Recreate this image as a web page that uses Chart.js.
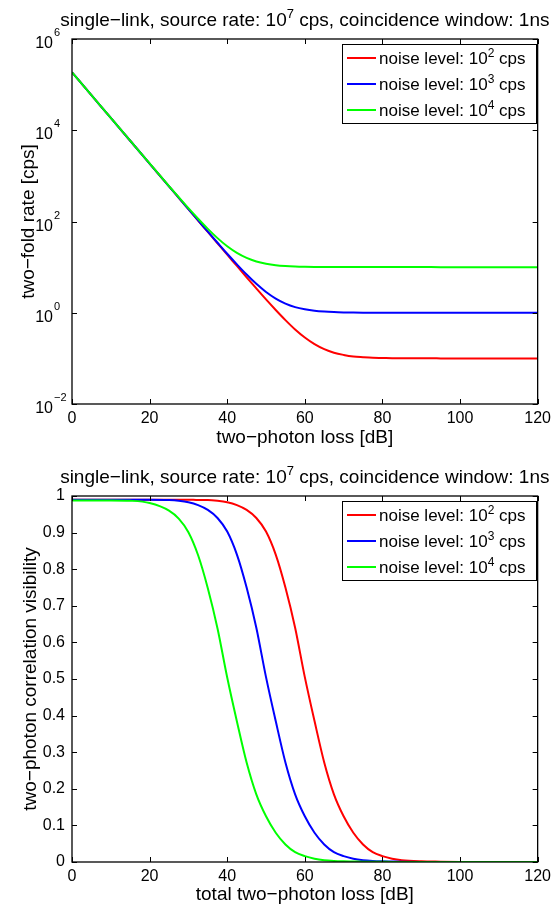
<!DOCTYPE html>
<html><head><meta charset="utf-8">
<script src="https://cdn.jsdelivr.net/npm/chart.js@4.4.1/dist/chart.umd.min.js"></script>
<style>
html,body{margin:0;padding:0;background:#fff;overflow:hidden;}
#wrap{position:relative;width:556px;height:907px;}
.box{position:absolute;left:0;width:556px;}
</style></head><body>
<div id="wrap">
<div class="box" style="top:0;height:453px"><canvas id="c1"></canvas></div>
<div class="box" style="top:453px;height:454px"><canvas id="c2"></canvas></div>
</div>
<script>
// ---- data ----
const lossDb = [0,5,10,15,20,25,27.5,30,32.5,35,37.5,40,42.5,45,47.5,50,52.5,55,57.5,60,62.5,65,67.5,70,72.5,75,77.5,80,82.5,85,90,95,100,105,110,115,120];
const noiseExponents = [2,3,4];
const rateNoise1e2 = [186000,58900,18600,5890,1860,589,331,186,105,59,33.2,18.7,10.6,5.99,3.41,1.96,1.15,0.69,0.43,0.286,0.205,0.159,0.133,0.119,0.110,0.106,0.103,0.102,0.101,0.1006,0.1002,0.1,0.1,0.1,0.1,0.1,0.1];
const rateNoise1e3 = [186000,58900,18600,5890,1860,590,332,187,106,60,34.2,19.6,11.5,6.89,4.31,2.86,2.05,1.59,1.33,1.19,1.105,1.059,1.033,1.019,1.011,1.006,1.003,1.002,1.001,1.0006,1.0002,1,1,1,1,1,1];
const rateNoise1e4 = [186000,58900,18600,5900,1870,599,341,196,115,69,43.2,28.6,20.5,15.9,13.3,11.9,11.05,10.59,10.33,10.19,10.11,10.06,10.03,10.02,10.01,10.006,10.003,10.002,10.001,10.0006,10.0002,10,10,10,10,10,10];
const visNoise1e2 = [0.990,0.990,0.990,0.990,0.990,0.990,0.990,0.990,0.989,0.989,0.987,0.983,0.975,0.962,0.940,0.903,0.840,0.750,0.640,0.505,0.385,0.272,0.185,0.125,0.080,0.048,0.027,0.016,0.009,0.005,0.002,0.001,0.0003,0,0,0,0];
const visNoise1e3 = [0.990,0.990,0.990,0.990,0.990,0.989,0.987,0.983,0.975,0.962,0.940,0.903,0.840,0.750,0.640,0.505,0.385,0.272,0.185,0.125,0.080,0.048,0.027,0.016,0.009,0.005,0.003,0.002,0.0015,0.001,0.0003,0.0001,0,0,0,0,0];
const visNoise1e4 = [0.988,0.988,0.988,0.987,0.981,0.960,0.938,0.901,0.838,0.748,0.638,0.504,0.384,0.272,0.185,0.125,0.080,0.048,0.027,0.016,0.009,0.005,0.003,0.002,0.0015,0.001,0.0007,0.0005,0.0003,0.0002,0,0,0,0,0,0,0];
const xTicks = [0,20,40,60,80,100,120];
const rateTicks = [1e-2,1e0,1e2,1e4,1e6];
const visTicks = [0,0.1,0.2,0.3,0.4,0.5,0.6,0.7,0.8,0.9,1];

// ---- drawing ----
const FONT = '"Liberation Sans", Arial, Helvetica, sans-serif';
Chart.defaults.font.family = FONT;
Chart.defaults.color = '#000';

function richText(ctx, parts, x, y, align, size, supSize, supRise) {
  let w = 0;
  const widths = parts.map(p => { ctx.font = (p[1] ? supSize : size) + 'px ' + FONT; const m = ctx.measureText(p[0]).width; w += m; return m; });
  let cx = align === 'center' ? x - w / 2 : align === 'right' ? x - w : x;
  ctx.textAlign = 'left'; ctx.textBaseline = 'alphabetic';
  parts.forEach((p, i) => { ctx.font = (p[1] ? supSize : size) + 'px ' + FONT; ctx.fillText(p[0], cx, p[1] ? y - supRise : y); cx += widths[i]; });
}

const matlabPlugin = {
  id: 'matlab',
  afterDraw(chart, args, o) {
    const ctx = chart.ctx, a = chart.chartArea, xs = chart.scales.x, ys = chart.scales.y;
    ctx.save();
    ctx.fillStyle = '#000'; ctx.strokeStyle = '#000';
    // ticks (inward, all four sides)
    ctx.lineWidth = 1;
    const tl = 5;
    ctx.beginPath();
    xs.ticks.forEach(t => { const p = Math.round(xs.getPixelForValue(t.value)) + 0.5; ctx.moveTo(p, a.bottom); ctx.lineTo(p, a.bottom - tl); ctx.moveTo(p, a.top); ctx.lineTo(p, a.top + tl); });
    ys.ticks.forEach(t => { const p = Math.round(ys.getPixelForValue(t.value)) + 0.5; ctx.moveTo(a.left, p); ctx.lineTo(a.left + tl, p); ctx.moveTo(a.right, p); ctx.lineTo(a.right - tl, p); });
    ctx.stroke();
    // box
    ctx.lineWidth = 1.3;
    ctx.strokeRect(a.left, a.top, a.right - a.left, a.bottom - a.top);
    // log tick labels
    if (o.logLabels) {
      ys.ticks.forEach(t => {
        const p = ys.getPixelForValue(t.value);
        const e = Math.round(Math.log10(t.value));
        ctx.font = '16px ' + FONT; ctx.textAlign = 'right'; ctx.textBaseline = 'alphabetic';
        ctx.fillText('10', a.left - 19, p + 9);
        ctx.font = '11px ' + FONT; ctx.textAlign = 'left';
        ctx.fillText(e < 0 ? '\u2212' + (-e) : String(e), a.left - 18, p - 3);
      });
    }
    // title
    richText(ctx, o.title, (a.left + a.right) / 2, a.top - 13, 'center', 19, 13, 8);
    // legend
    const L = o.legend;
    ctx.fillStyle = '#fff';
    ctx.fillRect(L.x, L.y, L.w, L.h);
    ctx.lineWidth = 1; ctx.strokeStyle = '#000';
    ctx.strokeRect(L.x + 0.5, L.y + 0.5, L.w, L.h);
    chart.data.datasets.forEach((ds, i) => {
      const cy = L.y + L.first + i * L.step;
      ctx.strokeStyle = ds.borderColor; ctx.lineWidth = 2;
      ctx.beginPath(); ctx.moveTo(L.x + 5, cy); ctx.lineTo(L.x + 34, cy); ctx.stroke();
      ctx.fillStyle = '#000';
      richText(ctx, [['noise level: 10', false], [String(ds.noiseExp), true], [' cps', false]], L.x + 37, cy + 6, 'left', 17, 12, 7);
    });
    ctx.restore();
  }
};

const titleParts = [['single\u2212link, source rate: 10', false], ['7', true], [' cps, coincidence window: 1ns', false]];
const colors = ['#ff0000', '#0000ff', '#00ff00'];

function makeDatasets(series) {
  return series.map((s, i) => ({
    label: 'noise level: 10^' + noiseExponents[i] + ' cps',
    noiseExp: noiseExponents[i],
    data: lossDb.map((x, j) => ({ x: x, y: s[j] })),
    borderColor: colors[i], backgroundColor: colors[i],
    borderWidth: 2, pointRadius: 0, fill: false,
    cubicInterpolationMode: 'monotone',
    order: 3 - i
  }));
}

function xScale(titleText, padBottom, height) {
  return {
    type: 'linear', min: 0, max: 120,
    afterBuildTicks(s) { s.ticks = xTicks.map(v => ({ value: v })); },
    ticks: { font: { size: 16 }, color: '#000', padding: 5, maxRotation: 0, autoSkip: false },
    grid: { display: false, drawTicks: false }, border: { display: false },
    title: { display: true, text: titleText, font: { size: 19 }, color: '#000', padding: { top: 0, bottom: padBottom } },
    afterFit(s) { s.height = height; }
  };
}

new Chart(document.getElementById('c1'), {
  type: 'line',
  data: { datasets: makeDatasets([rateNoise1e2, rateNoise1e3, rateNoise1e4]) },
  options: {
    responsive: true, maintainAspectRatio: false, animation: false,
    layout: { padding: { top: 39, right: 15, left: 0, bottom: 0 } },
    plugins: {
      legend: { display: false }, tooltip: { enabled: false },
      matlab: { logLabels: true, title: titleParts, legend: { x: 342, y: 44, w: 194, h: 79, first: 14, step: 26 } }
    },
    scales: {
      x: xScale('two\u2212photon loss [dB]', 4, 49),
      y: {
        type: 'logarithmic', min: 1e-2, max: 1e6,
        afterBuildTicks(s) { s.ticks = rateTicks.map(v => ({ value: v })); },
        ticks: { display: false },
        grid: { display: false, drawTicks: false }, border: { display: false },
        title: { display: true, text: 'two\u2212fold rate [cps]', font: { size: 19 }, color: '#000', padding: { top: 17, bottom: 0 } },
        afterFit(s) { s.width = 72; }
      }
    }
  },
  plugins: [matlabPlugin]
});

new Chart(document.getElementById('c2'), {
  type: 'line',
  data: { datasets: makeDatasets([visNoise1e2, visNoise1e3, visNoise1e4]) },
  options: {
    responsive: true, maintainAspectRatio: false, animation: false,
    layout: { padding: { top: 43, right: 15, left: 0, bottom: 0 } },
    plugins: {
      legend: { display: false }, tooltip: { enabled: false },
      matlab: { logLabels: false, title: titleParts, legend: { x: 342, y: 48, w: 194, h: 79, first: 14, step: 26 } }
    },
    scales: {
      x: xScale('total two\u2212photon loss [dB]', 1, 45),
      y: {
        type: 'linear', min: 0, max: 1,
        afterBuildTicks(s) { s.ticks = visTicks.map(v => ({ value: v })); },
        ticks: { font: { size: 16 }, color: '#000', padding: 7, callback: v => String(+(+v).toFixed(1)) },
        grid: { display: false, drawTicks: false }, border: { display: false },
        title: { display: true, text: 'two\u2212photon correlation visibility', font: { size: 19 }, color: '#000', padding: { top: 19, bottom: 0 } },
        afterFit(s) { s.width = 72; }
      }
    }
  },
  plugins: [matlabPlugin]
});
</script>
</body></html>
